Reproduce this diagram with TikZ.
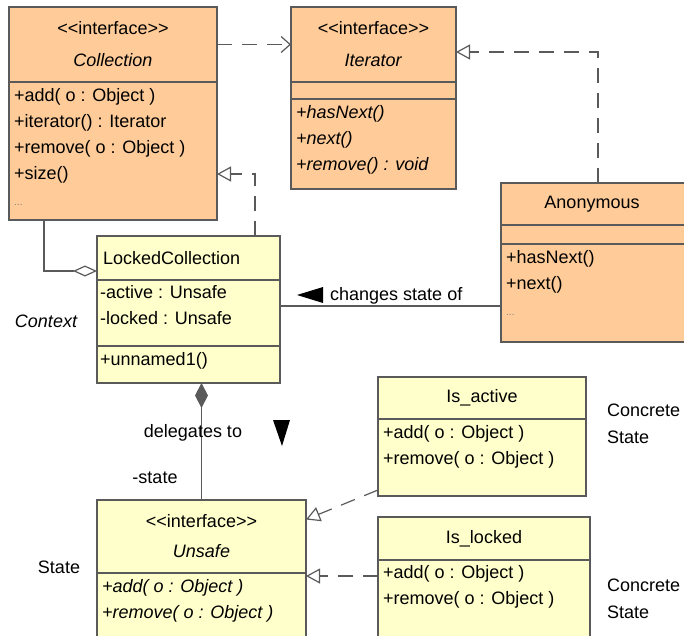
\documentclass[tikz,border=0pt]{standalone}
\usepackage{fontspec}
\setmainfont{Liberation Sans}
\usetikzlibrary{positioning,calc,arrows.meta}

\definecolor{classorange}{HTML}{FFCC99}
\definecolor{classyellow}{HTML}{FFFFCC}
\definecolor{linegray}{HTML}{5A5A5A}

\tikzset{
  compart/.style={draw=linegray, line width=1.2pt, outer sep=0pt, inner sep=0pt},
  orangebox/.style={compart, fill=classorange},
  yellowbox/.style={compart, fill=classyellow},
  headtext/.style={font=\fontsize{18}{32}\selectfont, align=center},
  opstext/.style={font=\fontsize{18}{26}\selectfont, align=left, anchor=north west, inner sep=0pt},
  lbl/.style={font=\fontsize{18}{27}\selectfont, inner sep=0pt},
  assoc/.style={draw=linegray, line width=1.2pt},
  realize/.style={assoc, dash pattern=on 15pt off 10pt, -{Triangle[open, length=14pt, width=15pt]}},
  depend/.style={assoc, dash pattern=on 15pt off 10pt, -{Straight Barb[length=9pt, width=16pt]}},
  aggregate/.style={assoc, {Diamond[open, length=24pt, width=11pt]}-},
  compose/.style={assoc, {Diamond[length=25pt, width=13pt, fill=linegray]}-}
}

\newcommand{\stereo}{<\kern0pt<interface>\kern0pt>}
\newcommand{\moredots}{{\fontsize{10}{26}\selectfont\color{gray}...}}

\begin{document}
\begin{tikzpicture}[x=1pt, y=-1pt]
\clip (0,0) rectangle (684,635);

% Collection
\node[orangebox, minimum width=208, minimum height=75, headtext] (collhead) at (113,44.5) {\stereo\\\textit{Collection}};
\node[orangebox, minimum width=208, minimum height=138, below=0pt of collhead] (collbody) {};
\node[opstext] (collops) at ($(collbody.north west)+(5,6.5)$) {+add( o : Object )\\+iterator() : Iterator\\+remove( o : Object )\\+size()\\\moredots};

% Iterator
\node[orangebox, minimum width=165, minimum height=75, headtext] (iterhead) at (373.5,44.5) {\stereo\\\textit{Iterator}};
\node[orangebox, minimum width=165, minimum height=17, below=0pt of iterhead] (itermid) {};
\node[orangebox, minimum width=165, minimum height=90, below=0pt of itermid] (iterbody) {};
\node[opstext, font=\fontsize{18}{26}\selectfont\itshape] (iterops) at ($(iterbody.north west)+(5,6.5)$) {+hasNext()\\+next()\\+remove() : void};

% Anonymous
\node[orangebox, minimum width=194, minimum height=42, headtext] (anonhead) at (598,204) {Anonymous\hspace*{12pt}};
\node[orangebox, minimum width=194, minimum height=19, below=0pt of anonhead] (anonmid) {};
\node[orangebox, minimum width=194, minimum height=98, below=0pt of anonmid] (anonbody) {};
\node[opstext] (anonops) at ($(anonbody.north west)+(5,6.5)$) {+hasNext()\\+next()\\\moredots};

% LockedCollection
\node[yellowbox, minimum width=183, minimum height=44, headtext, text width=171, align=left] (lchead) at (188.5,258) {LockedCollection};
\node[yellowbox, minimum width=183, minimum height=66, below=0pt of lchead] (lcattr) {};
\node[yellowbox, minimum width=183, minimum height=37, below=0pt of lcattr] (lcops) {};
\node[opstext] (lcattrtext) at ($(lcattr.north west)+(3,5.5)$) {-active : Unsafe\\-locked : Unsafe};
\node[opstext] (lcopstext) at ($(lcops.north west)+(3,6.5)$) {+unnamed1()};

% Unsafe
\node[yellowbox, minimum width=209, minimum height=73, headtext, font=\fontsize{18}{30}\selectfont] (unsafehead) at (201.5,536.5) {\stereo\\\textit{Unsafe}};
\node[yellowbox, minimum width=209, minimum height=77, below=0pt of unsafehead] (unsafebody) {};
\node[opstext, font=\fontsize{18}{26}\selectfont\itshape] (unsafeops) at ($(unsafebody.north west)+(5,6.5)$) {+add( o : Object )\\+remove( o : Object )};

% Is_active
\node[yellowbox, minimum width=208, minimum height=42, headtext] (acthead) at (482,398) {Is\_active};
\node[yellowbox, minimum width=208, minimum height=77, below=0pt of acthead] (actbody) {};
\node[opstext] (actops) at ($(actbody.north west)+(5,6.5)$) {+add( o : Object )\\+remove( o : Object )};

% Is_locked
\node[yellowbox, minimum width=212, minimum height=43, headtext] (lockhead) at (484,538.5) {Is\_locked};
\node[yellowbox, minimum width=212, minimum height=90, below=0pt of lockhead] (lockbody) {};
\node[opstext] (lockops) at ($(lockbody.north west)+(5,5.5)$) {+add( o : Object )\\+remove( o : Object )};

% connectors
\draw[depend] (collhead.east) -- (iterhead.west);
\draw[realize] (anonhead.north) |- ($(iterhead.east)+(0,7.5)$);
\draw[realize] ($(lchead.north east)+(-25,0)$) |- ($(collbody.east)+(0,23)$);
\draw[aggregate] ($(lchead.west)+(0,13)$) -| ($(collbody.south west)+(35,0)$);
\draw[assoc] ($(anonbody.west)+(0,13)$) coordinate (cs) -- (cs -| lcattr.east);
\draw[compose] (unsafehead.north |- lcops.south) -- (unsafehead.north);
\draw[realize] ($(actbody.south west)+(0,-6)$) -- ($(unsafehead.east)+(0,-17)$);
\draw[realize] ($(lockbody.west)+(0,-29)$) coordinate (il) -- (il -| unsafebody.east);

% labels
\node[lbl, anchor=west] (changes) at (330,296) {changes state of};
\fill (297,295) -- (323,287) -- (323,303) -- cycle;
\node[lbl] (deleg) at (193,433) {delegates to};
\fill (282,446) -- (273,420) -- (290,420) -- cycle;
\node[lbl] (statevar) at (155,478) {-state};
\node[lbl, font=\fontsize{18}{27}\selectfont\itshape] (ctx) at (46,321) {Context};
\node[lbl] (statelbl) at (59,567) {State};
\node[lbl, align=left, anchor=west] (conc1) at (607,423.5) {Concrete\\State};
\node[lbl, align=left, anchor=west] (conc2) at (607,598.5) {Concrete\\State};

\end{tikzpicture}
\end{document}
